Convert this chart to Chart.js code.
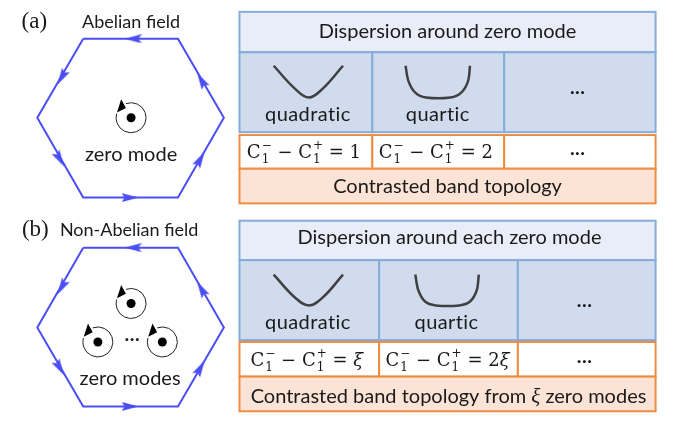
<!DOCTYPE html>
<html>
<head>
<meta charset="utf-8">
<script src="https://cdn.jsdelivr.net/npm/chart.js@4"></script>
<style>
  html, body { margin: 0; padding: 0; background: #fff; }
</style>
</head>
<body>
<canvas id="diagrama" width="688" height="426"></canvas>
<script>
// textos do diagrama
const panelTags = ['(a)', '(b)'];
const panelTitles = ['Abelian field', 'Non-Abelian field'];
const modeLabels = ['zero mode', 'zero modes'];
const headers = ['Dispersion around zero mode', 'Dispersion around each zero mode'];
const dispersionLabels = ['quadratic', 'quartic', '\u00B7\u00B7\u00B7'];
const chernValues = [['1', '2'], ['\u03BE', '2\u03BE']];
const footers = ['Contrasted band topology', 'Contrasted band topology from '];

// hexagonos (vertices no espaco do grafico)
const hexA = [[77, 32], [174, 32], [221, 114], [174, 197], [77, 197], [30, 114], [77, 32]];
const hexB = [[77, 249], [174, 249], [221, 332], [174, 414], [77, 414], [30, 332], [77, 249]];

// setas nas arestas: x, y, rotacao
const arrowX = [128, 55, 53, 125, 197, 198, 128, 55, 53, 125, 197, 198];
const arrowY = [32, 72, 157, 197, 157, 75, 249, 290, 374, 414, 374, 292];
const arrowRot = [270, 210, 150, 90, 30, 330, 270, 210, 150, 90, 30, 330];

// modos zero
const zeroModesX = [126, 126, 92, 158];
const zeroModesY = [114, 307, 347, 347];

// curvas de dispersao
const quadA = [[272, 60], [294, 84], [308, 93], [322, 84], [343, 60]];
const quartA = [[407, 60], [410, 76], [417, 88], [428, 93], [453, 93], [464, 88], [471, 76], [473, 60]];
const quadB = [[272, 277], [294, 301], [308, 309], [322, 301], [343, 277]];
const quartB = [[417, 277], [420, 293], [427, 305], [438, 309], [462, 309], [473, 305], [480, 293], [482, 277]];

// tabelas: colunas e linhas
const colsA = [237, 373, 508, 663];
const rowsA = [4, 46, 129, 132, 167, 203];
const colsB = [237, 380, 522, 663];
const rowsB = [221, 262, 345, 347, 383, 419];

const AZUL = '#4b4ef2';
const SANS = 'Lato, "Open Sans", sans-serif';
const SERIF = '"Liberation Serif", "DejaVu Serif", serif';
const MATH = '"DejaVu Serif", serif';

const pts = arr => arr.map(([x, y]) => ({ x, y }));

function criarSeta() {
    const c = document.createElement('canvas');
    c.width = 9; c.height = 17;
    const g = c.getContext('2d');
    g.fillStyle = AZUL;
    g.beginPath();
    g.moveTo(4.5, 0); g.lineTo(9, 17); g.lineTo(4.5, 14); g.lineTo(0, 17);
    g.closePath();
    g.fill();
    return c;
}

// escreve uma sequencia de trechos centralizada em (cx, cy)
function escreverTrechos(ctx, trechos, cx, cy) {
    ctx.textBaseline = 'alphabetic';
    ctx.textAlign = 'left';
    let total = 0;
    trechos.forEach(t => {
        ctx.font = t.font;
        let w = ctx.measureText(t.text).width;
        if (t.sub) {
            ctx.font = t.small;
            w += Math.max(ctx.measureText(t.sub).width, ctx.measureText(t.sup).width) + 1;
        }
        t.w = w;
        total += w;
    });
    let x = cx - total / 2;
    trechos.forEach(t => {
        ctx.font = t.font;
        ctx.fillText(t.text, x, cy);
        const wm = ctx.measureText(t.text).width;
        if (t.sub) {
            ctx.font = t.small;
            ctx.fillText(t.sub, x + wm + 1, cy + 5);
            ctx.fillText(t.sup, x + wm + 1, cy - 9);
        }
        x += t.w;
    });
}

function chern(rhs) {
    const f = '18px ' + MATH;
    const fi = 'italic 18px ' + MATH;
    const s = '12px ' + MATH;
    const partes = [
        { text: 'C', font: f, sub: '1', sup: '\u2212', small: s },
        { text: ' \u2212 ', font: f },
        { text: 'C', font: f, sub: '1', sup: '+', small: s },
        { text: ' = ', font: f }
    ];
    if (rhs.startsWith('2') && rhs.length > 1) {
        partes.push({ text: '2', font: f }, { text: '\u03BE', font: fi });
    } else if (rhs === '\u03BE') {
        partes.push({ text: rhs, font: fi });
    } else {
        partes.push({ text: rhs, font: f });
    }
    return partes;
}

const diagramaPlugin = {
    id: 'diagrama',
    beforeDatasetsDraw(chart) {
        const { ctx, scales: { x, y } } = chart;
        const px = v => x.getPixelForValue(v);
        const py = v => y.getPixelForValue(v);
        const caixa = (x0, y0, x1, y1, fill, stroke) => {
            ctx.fillStyle = fill;
            ctx.fillRect(px(x0), py(y0), px(x1) - px(x0), py(y1) - py(y0));
            ctx.strokeStyle = stroke;
            ctx.lineWidth = 2;
            ctx.strokeRect(px(x0), py(y0), px(x1) - px(x0), py(y1) - py(y0));
        };
        ctx.save();
        [[colsA, rowsA], [colsB, rowsB]].forEach(([cols, rows]) => {
            caixa(cols[0], rows[0], cols[3], rows[1], '#e9edf7', '#86acda');
            for (let i = 0; i < 3; i++) caixa(cols[i], rows[1], cols[i + 1], rows[2], '#d0dcee', '#86acda');
            for (let i = 0; i < 3; i++) caixa(cols[i], rows[3], cols[i + 1], rows[4], '#ffffff', '#ee8d42');
            caixa(cols[0], rows[4], cols[3], rows[5], '#fbe4d6', '#ee8d42');
        });
        ctx.restore();
    },
    afterDatasetsDraw(chart) {
        const { ctx, scales: { x, y } } = chart;
        const px = v => x.getPixelForValue(v);
        const py = v => y.getPixelForValue(v);
        ctx.save();

        // circulos com seta em volta dos modos zero
        ctx.strokeStyle = '#222';
        ctx.fillStyle = '#000';
        ctx.lineWidth = 1;
        zeroModesX.forEach((zx, i) => {
            const cx = px(zx), cy = py(zeroModesY[i]), r = 15;
            const rad = d => d * Math.PI / 180;
            ctx.beginPath();
            ctx.arc(cx, cy, r, rad(250), rad(555));
            ctx.stroke();
            // ponta da seta
            const aTip = rad(200), aBase = rad(242);
            const tip = [cx + r * Math.cos(aTip), cy + r * Math.sin(aTip)];
            const bx = cx + r * Math.cos(aBase), by = cy + r * Math.sin(aBase);
            const nx = Math.cos(aBase), ny = Math.sin(aBase);
            ctx.beginPath();
            ctx.moveTo(tip[0], tip[1]);
            ctx.lineTo(bx + nx * 6, by + ny * 6);
            ctx.lineTo(bx - nx * 4, by - ny * 4);
            ctx.closePath();
            ctx.fill();
        });

        ctx.fillStyle = '#1a1a1a';
        ctx.textAlign = 'center';
        ctx.textBaseline = 'middle';

        // rotulos dos paineis
        ctx.font = '23px ' + SERIF;
        ctx.fillText(panelTags[0], px(27), py(15));
        ctx.fillText(panelTags[1], px(28), py(231));
        ctx.font = '18px ' + SANS;
        ctx.fillText(panelTitles[0], px(126), py(15));
        ctx.fillText(panelTitles[1], px(124), py(231));
        ctx.font = '20px ' + SANS;
        ctx.fillText(modeLabels[0], px(126), py(152));
        ctx.fillText(modeLabels[1], px(125), py(385));
        ctx.fillText('\u00B7\u00B7\u00B7', px(127), py(343));

        // tabela (a)
        ctx.fillText(headers[0], px(450), py(24));
        ctx.letterSpacing = '0.4px';
        ctx.fillText(dispersionLabels[0], px(307), py(111));
        ctx.fillText(dispersionLabels[1], px(440), py(111));
        ctx.fillText(dispersionLabels[0], px(307), py(327));
        ctx.fillText(dispersionLabels[1], px(449), py(327));
        ctx.letterSpacing = '0px';
        ctx.fillText(dispersionLabels[2], px(583), py(87));
        ctx.fillText('\u00B7\u00B7\u00B7', px(583), py(150));
        ctx.fillText(footers[0], px(450), py(185));
        // tabela (b)
        ctx.fillText(headers[1], px(452), py(238));
        ctx.fillText(dispersionLabels[2], px(590), py(308));
        ctx.fillText('\u00B7\u00B7\u00B7', px(590), py(366));

        escreverTrechos(ctx, [
            { text: footers[1], font: '20px ' + SANS },
            { text: '\u03BE', font: 'italic 21px ' + SERIF },
            { text: ' zero modes', font: '20px ' + SANS }
        ], px(451), py(410));

        escreverTrechos(ctx, chern(chernValues[0][0]), px(303), py(156));
        escreverTrechos(ctx, chern(chernValues[0][1]), px(438), py(156));
        escreverTrechos(ctx, chern(chernValues[1][0]), px(306), py(372));
        escreverTrechos(ctx, chern(chernValues[1][1]), px(450), py(372));

        ctx.restore();
    }
};

const seta = criarSeta();
const linha = (dados, cor, largura, tensao) => ({
    data: pts(dados),
    showLine: true,
    borderColor: cor,
    borderWidth: largura,
    pointRadius: 0,
    fill: false,
    tension: tensao
});

new Chart(document.getElementById('diagrama'), {
    type: 'scatter',
    data: {
        datasets: [
            linha(hexA, AZUL, 2, 0),
            linha(hexB, AZUL, 2, 0),
            {
                data: arrowX.map((ax, i) => ({ x: ax, y: arrowY[i] })),
                pointStyle: seta,
                rotation: arrowRot,
                pointRadius: 7,
                showLine: false
            },
            {
                data: zeroModesX.map((zx, i) => ({ x: zx, y: zeroModesY[i] })),
                pointRadius: 4.5,
                backgroundColor: '#000',
                borderWidth: 0,
                showLine: false
            },
            linha(quadA, '#404040', 2.5, 0.4),
            linha(quartA, '#404040', 2.5, 0.3),
            linha(quadB, '#404040', 2.5, 0.4),
            linha(quartB, '#404040', 2.5, 0.3)
        ]
    },
    options: {
        responsive: false,
        animation: false,
        layout: { padding: 0 },
        clip: false,
        plugins: { legend: { display: false }, tooltip: { enabled: false } },
        scales: {
            x: { type: 'linear', min: 0, max: 688, display: false },
            y: { type: 'linear', min: 0, max: 426, reverse: true, display: false }
        }
    },
    plugins: [diagramaPlugin]
});
</script>
</body>
</html>
